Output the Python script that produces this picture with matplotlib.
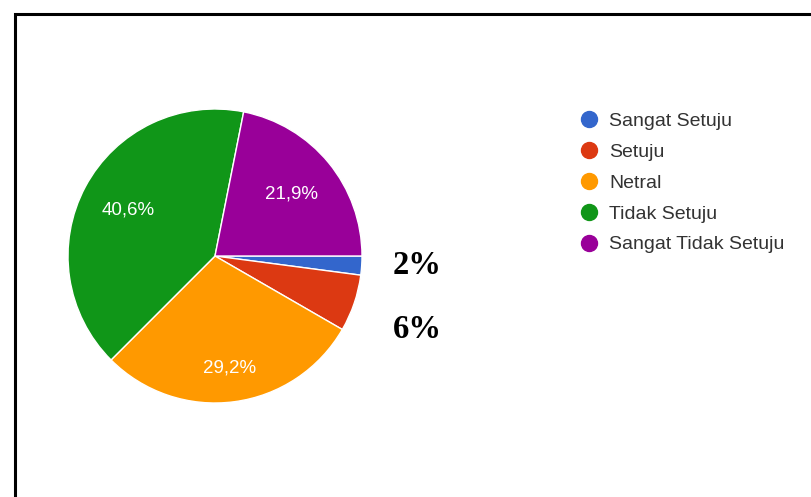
import matplotlib.pyplot as plt
from matplotlib.lines import Line2D

# survey answers (96 respondents)
categories = ['Sangat Setuju', 'Setuju', 'Netral', 'Tidak Setuju', 'Sangat Tidak Setuju']
counts = [2, 6, 28, 39, 21]
colors = ['#3366cc', '#dc3912', '#ff9900', '#109618', '#990099']
small_labels = ['2%', '6%']

W, H = 812, 497
fig = plt.figure(figsize=(W / 100, H / 100), dpi=100)
ax = fig.add_axes([0, 0, 1, 1])


def pct_label(p):
    if p < 10:
        return ''
    return ('%.1f%%' % p).replace('.', ',')


wedges, texts, autotexts = ax.pie(
    counts, colors=colors, startangle=0, counterclock=False,
    center=(215, H - 256), radius=147, autopct=pct_label, pctdistance=0.67,
    wedgeprops=dict(edgecolor='white', linewidth=1),
    textprops=dict(color='white', fontsize=13.5, family='Liberation Sans'),
    frame=True)
ax.set_xlim(0, W)
ax.set_ylim(0, H)
ax.axis('off')

# the orange label sits further out
cx, cy = 215, H - 256
x, y = autotexts[2].get_position()
autotexts[2].set_position((cx + (x - cx) * 1.15, cy + (y - cy) * 1.15))

# bold percentages for the two thin slices
ax.text(417, H - 265, small_labels[0], ha='center', va='center',
        fontsize=23.5, fontweight='bold', family='Liberation Serif')
ax.text(417, H - 329, small_labels[1], ha='center', va='center',
        fontsize=23.5, fontweight='bold', family='Liberation Serif')

handles = [Line2D([], [], marker='o', linestyle='none', markersize=11.5,
                  markerfacecolor=c, markeredgecolor=c) for c in colors]
leg = ax.legend(handles, categories, loc='upper left',
                bbox_to_anchor=(580 / W, 1 - 112.5 / H), frameon=False,
                prop=dict(family='Liberation Sans', size=14),
                labelspacing=0.68, handletextpad=0.6, handlelength=0.9,
                borderaxespad=0, borderpad=0)
for t in leg.get_texts():
    t.set_color('#333333')

# frame on the top and left edges
ax.plot([14.8, 14.8, W], [0, H - 14.3, H - 14.3], color='black', linewidth=2.2,
        solid_joinstyle='miter', clip_on=False)

fig.savefig('out.png', dpi=100)
